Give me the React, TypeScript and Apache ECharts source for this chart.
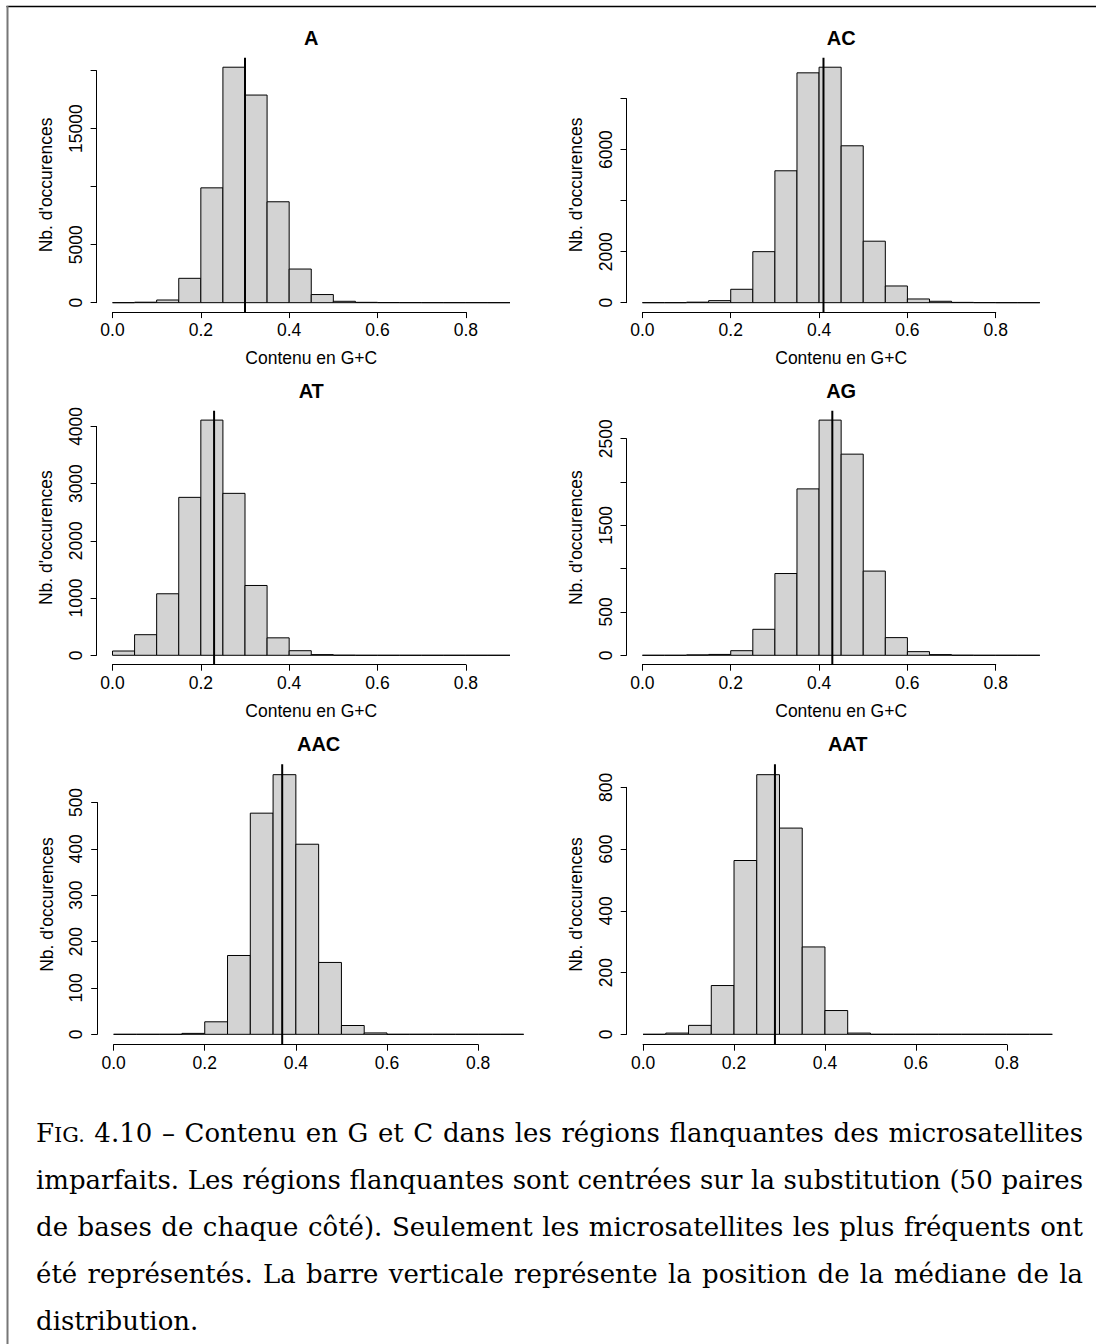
import React, { useEffect, useRef } from 'react';
import * as echarts from 'echarts';

// ---------- data ----------
const panelTitles = ['A', 'AC', 'AT', 'AG', 'AAC', 'AAT'];
const breaks = [0, 0.05, 0.1, 0.15, 0.2, 0.25, 0.3, 0.35, 0.4, 0.45, 0.5, 0.55, 0.6, 0.65, 0.7, 0.75, 0.8, 0.85, 0.9];
const countsA = [0, 40, 230, 2100, 9900, 20300, 17900, 8700, 2900, 700, 120, 30, 10, 5, 3, 2, 1, 0];
const countsAC = [0, 0, 20, 80, 525, 2000, 5170, 9010, 9230, 6150, 2410, 655, 145, 55, 12, 3, 0, 0];
const countsAT = [75, 360, 1075, 2760, 4110, 2830, 1220, 305, 80, 12, 2, 0, 0, 0, 0, 0, 0, 0];
const countsAG = [0, 0, 5, 10, 53, 300, 944, 1921, 2715, 2322, 972, 204, 42, 8, 1, 0, 0, 0];
const countsAAC = [0, 0, 0, 2, 27, 170, 477, 560, 410, 155, 19, 3, 0, 0, 0, 0, 0, 0];
const countsAAT = [0, 4, 29, 158, 563, 841, 668, 283, 77, 4, 0, 0, 0, 0, 0, 0, 0, 0];
const medians = [0.30, 0.41, 0.23, 0.43, 0.37, 0.29];

const xTicks = [0, 0.2, 0.4, 0.6, 0.8];
const xTickLabels = ['0.0', '0.2', '0.4', '0.6', '0.8'];
const yTicksA = [0, 5000, 10000, 15000, 20000];
const yTickLabelsA = ['0', '5000', '', '15000', ''];
const yTicksAC = [0, 2000, 4000, 6000, 8000];
const yTickLabelsAC = ['0', '2000', '', '6000', ''];
const yTicksAT = [0, 1000, 2000, 3000, 4000];
const yTickLabelsAT = ['0', '1000', '2000', '3000', '4000'];
const yTicksAG = [0, 500, 1000, 1500, 2000, 2500];
const yTickLabelsAG = ['0', '500', '', '1500', '', '2500'];
const yTicksAAC = [0, 100, 200, 300, 400, 500];
const yTickLabelsAAC = ['0', '100', '200', '300', '400', '500'];
const yTicksAAT = [0, 200, 400, 600, 800];
const yTickLabelsAAT = ['0', '200', '400', '600', '800'];

const xTitle = 'Contenu en G+C';
const yTitle = "Nb. d'occurences";

const captionLines = [
  'FIG. 4.10 – Contenu en G et C dans les régions flanquantes des microsatellites',
  'imparfaits. Les régions flanquantes sont centrées sur la substitution (50 paires',
  'de bases de chaque côté). Seulement les microsatellites les plus fréquents ont',
  'été représentés. La barre verticale représente la position de la médiane de la',
  'distribution.',
];

// ---------- layout (pixels) ----------
const layout = [
  { left: 96.6, right: 525.9, top: 57.8, bottom: 312.1, showXTitle: true, titleY: 37.5 },
  { left: 626.5, right: 1055.8, top: 57.8, bottom: 312.1, showXTitle: true, titleY: 37.5 },
  { left: 96.6, right: 525.9, top: 410.7, bottom: 664.7, showXTitle: true, titleY: 390.8 },
  { left: 626.5, right: 1055.8, top: 410.7, bottom: 664.7, showXTitle: true, titleY: 390.8 },
  { left: 97.2, right: 540.1, top: 764.3, bottom: 1044.7, showXTitle: false, titleY: 744 },
  { left: 626.7, right: 1068.7, top: 764.3, bottom: 1044.7, showXTitle: false, titleY: 744 },
];

const SANS = 'Liberation Sans';
const SERIF = 'DejaVu Serif';
const AXIS_FS = 17.5;

function makeMeasurer() {
  const ctx = document.createElement('canvas').getContext('2d');
  return (t: string, fs: number) => {
    if (!ctx) return t.length * fs * 0.55;
    ctx.font = `${fs}px "${SERIF}"`;
    return ctx.measureText(t).width;
  };
}

function buildOption() {
  const panels = [
    { title: panelTitles[0], counts: countsA, median: medians[0], yTicks: yTicksA, yLabels: yTickLabelsA },
    { title: panelTitles[1], counts: countsAC, median: medians[1], yTicks: yTicksAC, yLabels: yTickLabelsAC },
    { title: panelTitles[2], counts: countsAT, median: medians[2], yTicks: yTicksAT, yLabels: yTickLabelsAT },
    { title: panelTitles[3], counts: countsAG, median: medians[3], yTicks: yTicksAG, yLabels: yTickLabelsAG },
    { title: panelTitles[4], counts: countsAAC, median: medians[4], yTicks: yTicksAAC, yLabels: yTickLabelsAAC },
    { title: panelTitles[5], counts: countsAAT, median: medians[5], yTicks: yTicksAAT, yLabels: yTickLabelsAAT },
  ];
  const grids: any[] = [];
  const xAxes: any[] = [];
  const yAxes: any[] = [];
  const series: any[] = [];
  const graphics: any[] = [];

  const nameStyle = { fontSize: AXIS_FS, fontFamily: SANS, color: '#000' };
  const bMin = breaks[0];
  const bMax = breaks[breaks.length - 1];
  const xMin = bMin - 0.04 * (bMax - bMin);
  const xMax = bMax + 0.04 * (bMax - bMin);

  panels.forEach((p, i) => {
    const L = layout[i];
    const cMax = Math.max(...p.counts);
    const yMin = -0.04 * cMax;
    const yMax = 1.04 * cMax;
    const W = L.right - L.left;
    const H = L.bottom - L.top;
    const px = (v: number) => L.left + ((v - xMin) / (xMax - xMin)) * W;
    const py = (v: number) => L.bottom - ((v - yMin) / (yMax - yMin)) * H;
    const g0 = grids.length;

    // plot region
    grids.push({ left: L.left, top: L.top, width: W, height: H, containLabel: false, outerBoundsMode: 'none' });
    xAxes.push({
      gridIndex: g0, type: 'value', min: xMin, max: xMax,
      axisLine: { show: false }, axisTick: { show: false }, axisLabel: { show: false }, splitLine: { show: false },
      name: L.showXTitle ? xTitle : '', nameLocation: 'middle', nameGap: 37, nameTextStyle: nameStyle,
    });
    yAxes.push({
      gridIndex: g0, type: 'value', min: yMin, max: yMax,
      axisLine: { show: false }, axisTick: { show: false }, axisLabel: { show: false }, splitLine: { show: false },
      name: yTitle, nameLocation: 'middle', nameGap: 41.5, nameRotate: 90, nameTextStyle: nameStyle,
    });

    // x axis (from first to last tick)
    const xa0 = px(xTicks[0]);
    const xa1 = px(xTicks[xTicks.length - 1]);
    grids.push({ left: xa0, top: L.bottom - 10, width: xa1 - xa0, height: 10, containLabel: false, outerBoundsMode: 'none' });
    xAxes.push({
      gridIndex: g0 + 1, type: 'value', position: 'bottom',
      min: xTicks[0], max: xTicks[xTicks.length - 1], interval: xTicks[1] - xTicks[0],
      axisLine: { show: true, lineStyle: { color: '#000', width: 1 } },
      axisTick: { show: true, length: 6, lineStyle: { color: '#000', width: 1 } },
      axisLabel: {
        margin: 9, fontSize: AXIS_FS, fontFamily: SANS, color: '#000',
        formatter: (v: number) => {
          const k = xTicks.findIndex((t) => Math.abs(t - v) < 1e-6);
          return k >= 0 ? xTickLabels[k] : '';
        },
      },
      splitLine: { show: false },
    });
    yAxes.push({ gridIndex: g0 + 1, type: 'value', min: 0, max: 1, show: false });

    // y axis (from first to last tick)
    const ya0 = py(p.yTicks[0]);
    const ya1 = py(p.yTicks[p.yTicks.length - 1]);
    grids.push({ left: L.left, top: ya1, width: 10, height: ya0 - ya1, containLabel: false, outerBoundsMode: 'none' });
    xAxes.push({ gridIndex: g0 + 2, type: 'value', min: 0, max: 1, show: false });
    yAxes.push({
      gridIndex: g0 + 2, type: 'value', position: 'left',
      min: p.yTicks[0], max: p.yTicks[p.yTicks.length - 1], interval: p.yTicks[1] - p.yTicks[0],
      axisLine: { show: true, lineStyle: { color: '#000', width: 1 } },
      axisTick: { show: true, length: 6, lineStyle: { color: '#000', width: 1 } },
      axisLabel: {
        rotate: 90, margin: 12, fontSize: AXIS_FS, fontFamily: SANS, color: '#000',
        formatter: (v: number) => {
          const k = p.yTicks.findIndex((t) => Math.abs(t - v) < 1e-6);
          return k >= 0 ? p.yLabels[k] : '';
        },
      },
      splitLine: { show: false },
    });

    // histogram bars
    series.push({
      type: 'custom',
      xAxisIndex: g0,
      yAxisIndex: g0,
      data: p.counts.map((c, k) => [breaks[k], breaks[k + 1], c]),
      encode: { x: [0, 1], y: 2 },
      clip: false,
      silent: true,
      renderItem: (params: any, api: any) => {
        const a = api.coord([api.value(0), 0]);
        const b = api.coord([api.value(1), api.value(2)]);
        return {
          type: 'polygon',
          shape: { points: [[a[0], a[1]], [a[0], b[1]], [b[0], b[1]], [b[0], a[1]]] },
          style: { fill: '#d3d3d3', stroke: '#000', lineWidth: 1 },
        };
      },
    });
    // median line
    series.push({
      type: 'line',
      xAxisIndex: g0,
      yAxisIndex: g0,
      data: [[p.median, yMin], [p.median, yMax]],
      symbol: 'none',
      silent: true,
      z: 5,
      lineStyle: { color: '#000', width: 2 },
    });

    graphics.push({
      type: 'text',
      x: (L.left + L.right) / 2,
      y: L.titleY,
      silent: true,
      style: {
        text: p.title, fontSize: 20, fontWeight: 'bold', fontFamily: SANS, fill: '#000',
        textAlign: 'center', textVerticalAlign: 'middle',
      },
    });
  });

  // frame
  graphics.push({ type: 'line', silent: true, shape: { x1: 6.5, y1: 6.5, x2: 1096, y2: 6.5 }, style: { stroke: '#000', lineWidth: 1.5 } });
  graphics.push({ type: 'line', silent: true, shape: { x1: 7.5, y1: 6, x2: 7.5, y2: 1344 }, style: { stroke: '#777', lineWidth: 2 } });

  // caption (justified, like the LaTeX original)
  const measure = makeMeasurer();
  const capLeft = 36;
  const capRight = 1083;
  const capBase = 1142;
  const capPitch = 47;
  const capFs = 26;
  const scFs = capFs * 0.8;
  const centralOf = (fs: number) => 0.346 * fs;
  const addText = (t: string, x: number, baseline: number, fs: number) => {
    graphics.push({
      type: 'text', x, y: baseline - centralOf(fs), silent: true,
      style: { text: t, fontSize: fs, fontFamily: SERIF, fill: '#000', textAlign: 'left', textVerticalAlign: 'middle' },
    });
  };
  captionLines.forEach((line, k) => {
    const baseline = capBase + k * capPitch;
    const isLast = k === captionLines.length - 1;
    if (isLast) {
      addText(line, capLeft, baseline, capFs);
      return;
    }
    const words = line.split(' ');
    const widthOf = (w: string) =>
      w === 'FIG.' ? measure('F', capFs) + measure('IG.', scFs) : measure(w, capFs);
    const widths = words.map(widthOf);
    const total = widths.reduce((s, v) => s + v, 0);
    const gap = (capRight - capLeft - total) / (words.length - 1);
    let x = capLeft;
    words.forEach((w, j) => {
      if (w === 'FIG.') {
        addText('F', x, baseline, capFs);
        addText('IG.', x + measure('F', capFs), baseline, scFs);
      } else {
        addText(w, x, baseline, capFs);
      }
      x += widths[j] + gap;
    });
  });

  return {
    animation: false,
    backgroundColor: '#fff',
    grid: grids,
    xAxis: xAxes,
    yAxis: yAxes,
    series,
    graphic: graphics,
  };
}

export default function App() {
  const ref = useRef<HTMLDivElement>(null);
  useEffect(() => {
    document.body.style.margin = '0';
    if (!ref.current) return;
    const chart = echarts.init(ref.current, undefined, { renderer: 'svg' });
    chart.setOption(buildOption() as any);
    return () => chart.dispose();
  }, []);
  return <div ref={ref} style={{ width: 1096, height: 1344 }} />;
}
